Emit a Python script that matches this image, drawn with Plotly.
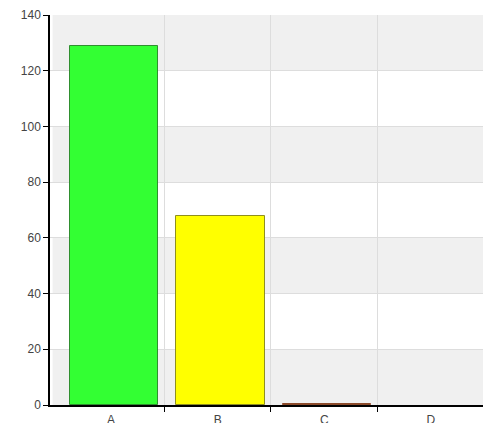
import plotly.graph_objects as go

categories = ["A", "B", "C", "D"]
values = [129, 68, 0.5, 0]
fill_colors = ["#33ff33", "#ffff00", "#dd4444", "rgba(0,0,0,0)"]
line_colors = ["#2f8f2f", "#8f8f1f", "#8b4a2a", "rgba(0,0,0,0)"]
y_ticks = [0, 20, 40, 60, 80, 100, 120, 140]

x_pos = list(range(len(categories)))

fig = go.Figure()
fig.add_trace(go.Bar(
    x=x_pos, y=values, width=0.83, offset=-0.39,
    marker=dict(color=fill_colors, line=dict(color=line_colors, width=1)),
    hoverinfo="skip",
))

# alternating background bands
shapes = []
for i in range(len(y_ticks) - 1):
    if i % 2 == 0:
        shapes.append(dict(type="rect", xref="paper", yref="y", x0=0.006, x1=1,
                           y0=y_ticks[i], y1=y_ticks[i + 1],
                           fillcolor="#f0f0f0", line=dict(width=0), layer="below"))

fig.update_layout(
    template="none",
    width=485, height=423,
    margin=dict(l=50, r=2, t=15, b=18, autoexpand=False),
    paper_bgcolor="white", plot_bgcolor="white",
    showlegend=False,
    shapes=shapes,
    font=dict(family="Liberation Sans, Arial, sans-serif", size=12, color="#444"),
    bargap=0,
)
fig.update_xaxes(
    automargin=False,
    range=[-0.573, 3.49],
    tickvals=x_pos, ticktext=categories,
    ticks="", showgrid=False, ticklabelstandoff=3,
    showline=True, linecolor="#000", linewidth=1.5,
    minor=dict(tickvals=[0.5, 1.5, 2.5], showgrid=True, gridcolor="#dddddd",
               gridwidth=1, ticks="outside", ticklen=5, tickcolor="#000"),
    zeroline=False, fixedrange=True,
)
fig.update_yaxes(
    automargin=False,
    range=[0, 140], tickvals=y_ticks,
    ticks="outside", ticklen=5, tickcolor="#000",
    showline=True, linecolor="#000", linewidth=1.5,
    showgrid=True, gridcolor="#dddddd", gridwidth=1,
    zeroline=False, fixedrange=True,
)

fig.write_html("out.html", config={"displayModeBar": False},
               post_script="document.body.style.margin='0';document.body.style.overflow='hidden';")
